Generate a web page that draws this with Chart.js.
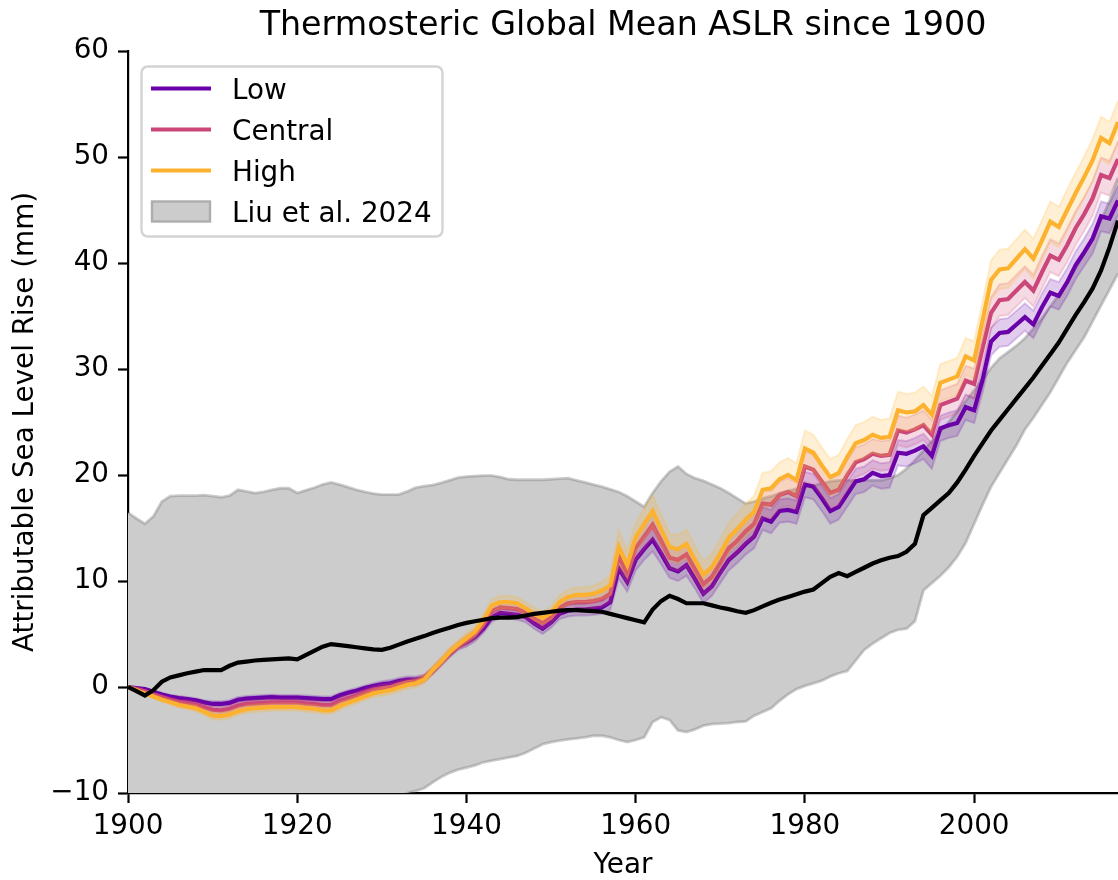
<!DOCTYPE html>
<html>
<head>
<meta charset="utf-8">
<title>Thermosteric Global Mean ASLR since 1900</title>
<script src="https://cdn.jsdelivr.net/npm/chart.js"></script>
<style>
  body { margin: 0; background: #fff; }
  canvas { display: block; }
</style>
</head>
<body>
<canvas id="aslr" width="1118" height="880"></canvas>
<script>
// annual values, 1900-2017, mm
const firstYear = 1900;

const low = [
  0.0, -0.1, -0.2, -0.45, -0.7, -0.9, -1.05, -1.15, -1.25, -1.45,      // 1900s
  -1.6, -1.6, -1.5, -1.2, -1.1, -1.05, -1.0, -0.95, -1.0, -1.0,        // 1910s
  -1.0, -1.05, -1.1, -1.15, -1.15, -0.8, -0.55, -0.35, -0.1, 0.1,      // 1920s
  0.25, 0.35, 0.55, 0.7, 0.7, 0.85, 1.5, 2.3, 3.1, 3.8,                // 1930s
  4.2, 4.7, 5.5, 6.6, 7.0, 6.9, 6.8, 6.6, 6.0, 5.5,                    // 1940s
  6.1, 6.9, 7.2, 7.3, 7.3, 7.4, 7.5, 8.0, 11.2, 9.9,                   // 1950s
  12.0, 13.0, 13.9, 12.6, 11.2, 10.9, 11.5, 10.2, 8.8, 9.5,            // 1960s
  10.8, 12.0, 12.7, 13.5, 14.2, 15.9, 15.6, 16.6, 16.7, 16.5,          // 1970s
  19.1, 18.9, 17.8, 16.6, 17.0, 18.2, 19.4, 19.6, 20.2, 19.9,          // 1980s
  20.0, 22.1, 22.0, 22.3, 22.7, 21.8, 24.4, 24.7, 24.9, 26.4,          // 1990s
  26.1, 29.0, 32.6, 33.4, 33.5, 34.2, 34.9, 34.2, 35.8, 37.2,          // 2000s
  36.9, 38.2, 39.8, 41.0, 42.3, 44.4, 44.2, 45.9                       // 2010s
];

const central = [
  0.0, -0.2, -0.4, -0.7, -0.95, -1.2, -1.4, -1.5, -1.65, -1.9,
  -2.15, -2.2, -2.05, -1.75, -1.6, -1.55, -1.5, -1.45, -1.45, -1.45,
  -1.45, -1.55, -1.6, -1.7, -1.7, -1.3, -1.05, -0.8, -0.5, -0.25,
  -0.1, 0.0, 0.25, 0.45, 0.5, 0.8, 1.55, 2.35, 3.2, 3.9,
  4.4, 4.95, 5.9, 7.15, 7.5, 7.45, 7.35, 7.0, 6.45, 6.0,
  6.55, 7.45, 7.9, 8.0, 8.0, 8.1, 8.3, 8.8, 12.3, 10.7,
  13.1, 14.2, 15.3, 13.8, 12.2, 12.0, 12.5, 11.1, 9.7, 10.4,
  11.7, 13.1, 13.8, 14.7, 15.4, 17.3, 17.2, 18.1, 18.4, 18.0,
  20.8, 20.5, 19.4, 18.3, 18.6, 20.0, 21.2, 21.5, 22.0, 21.8,
  21.9, 24.2, 24.0, 24.3, 24.7, 23.8, 26.6, 26.9, 27.2, 28.9,
  28.6, 32.0, 35.3, 36.5, 36.6, 37.4, 38.2, 37.4, 39.1, 40.7,
  40.3, 41.7, 43.3, 44.6, 46.1, 48.3, 48.0, 49.8
];

const high = [
  0.0, -0.3, -0.6, -0.9, -1.2, -1.45, -1.7, -1.85, -2.0, -2.35,
  -2.7, -2.75, -2.6, -2.3, -2.1, -2.0, -1.95, -1.9, -1.9, -1.9,
  -1.9, -2.0, -2.05, -2.2, -2.2, -1.8, -1.5, -1.2, -0.9, -0.6,
  -0.45, -0.3, -0.05, 0.2, 0.35, 0.7, 1.6, 2.4, 3.3, 4.0,
  4.6, 5.2, 6.3, 7.7, 8.0, 8.0, 7.9, 7.4, 6.9, 6.5,
  7.0, 8.0, 8.5, 8.7, 8.7, 8.8, 9.1, 9.6, 13.2, 11.5,
  14.1, 15.4, 16.6, 14.9, 13.2, 13.0, 13.5, 12.0, 10.6, 11.3,
  12.6, 14.1, 14.9, 15.8, 16.5, 18.6, 18.75, 19.6, 20.0, 19.5,
  22.5, 22.1, 20.9, 19.8, 20.2, 21.7, 23.0, 23.3, 23.8, 23.5,
  23.6, 26.1, 25.9, 26.0, 26.6, 25.7, 28.7, 29.0, 29.3, 31.2,
  30.8, 34.6, 38.4, 39.4, 39.5, 40.4, 41.3, 40.4, 42.1, 43.9,
  43.4, 45.0, 46.6, 48.1, 49.7, 51.8, 51.3, 53.3
];

// half-width of the shaded range around each scenario
const lowSpread = [
  0, 0.05, 0.1, 0.1, 0.15, 0.15, 0.2, 0.2, 0.2, 0.2,
  0.25, 0.25, 0.25, 0.25, 0.25, 0.25, 0.25, 0.25, 0.25, 0.25,
  0.25, 0.25, 0.25, 0.25, 0.25, 0.25, 0.25, 0.25, 0.25, 0.25,
  0.3, 0.3, 0.3, 0.3, 0.3, 0.3, 0.3, 0.3, 0.3, 0.3,
  0.4, 0.4, 0.4, 0.45, 0.45, 0.45, 0.45, 0.5, 0.5, 0.5,
  0.5, 0.5, 0.55, 0.55, 0.55, 0.6, 0.6, 0.7, 1.0, 0.9,
  1.0, 1.0, 1.1, 1.0, 0.9, 0.9, 1.0, 0.9, 0.9, 0.9,
  1.0, 1.0, 1.0, 1.0, 1.1, 1.1, 1.1, 1.1, 1.1, 1.1,
  1.2, 1.2, 1.2, 1.2, 1.2, 1.2, 1.2, 1.2, 1.2, 1.2,
  1.2, 1.2, 1.2, 1.2, 1.2, 1.2, 1.2, 1.2, 1.2, 1.2,
  1.2, 1.2, 1.3, 1.3, 1.3, 1.3, 1.3, 1.3, 1.3, 1.3,
  1.3, 1.3, 1.3, 1.3, 1.4, 1.4, 1.4, 1.4
];

const centralSpread = [
  0, 0.05, 0.1, 0.15, 0.15, 0.2, 0.2, 0.25, 0.25, 0.25,
  0.3, 0.3, 0.3, 0.3, 0.3, 0.3, 0.3, 0.3, 0.3, 0.3,
  0.3, 0.3, 0.3, 0.3, 0.3, 0.3, 0.3, 0.3, 0.3, 0.3,
  0.35, 0.35, 0.35, 0.35, 0.35, 0.35, 0.35, 0.35, 0.35, 0.35,
  0.45, 0.45, 0.5, 0.5, 0.5, 0.5, 0.5, 0.55, 0.55, 0.55,
  0.55, 0.6, 0.6, 0.6, 0.65, 0.65, 0.7, 0.8, 1.15, 1.05,
  1.15, 1.2, 1.25, 1.15, 1.05, 1.05, 1.1, 1.05, 1.0, 1.05,
  1.1, 1.15, 1.15, 1.2, 1.25, 1.3, 1.3, 1.3, 1.3, 1.3,
  1.4, 1.4, 1.4, 1.4, 1.4, 1.4, 1.4, 1.4, 1.4, 1.4,
  1.4, 1.4, 1.4, 1.4, 1.4, 1.4, 1.4, 1.4, 1.4, 1.4,
  1.45, 1.45, 1.5, 1.5, 1.5, 1.5, 1.5, 1.5, 1.55, 1.55,
  1.55, 1.6, 1.6, 1.6, 1.65, 1.65, 1.65, 1.7
];

const highSpread = [
  0, 0.05, 0.1, 0.15, 0.2, 0.2, 0.25, 0.25, 0.3, 0.3,
  0.35, 0.35, 0.35, 0.35, 0.35, 0.35, 0.35, 0.35, 0.35, 0.35,
  0.35, 0.35, 0.35, 0.35, 0.35, 0.35, 0.35, 0.35, 0.35, 0.35,
  0.4, 0.4, 0.4, 0.4, 0.4, 0.4, 0.4, 0.4, 0.4, 0.4,
  0.5, 0.5, 0.55, 0.6, 0.6, 0.6, 0.6, 0.6, 0.6, 0.6,
  0.6, 0.65, 0.7, 0.7, 0.7, 0.75, 0.8, 0.95, 1.6, 1.3,
  1.4, 1.45, 1.5, 1.4, 1.3, 1.3, 1.35, 1.3, 1.25, 1.3,
  1.35, 1.4, 1.45, 1.5, 1.55, 1.6, 1.6, 1.6, 1.6, 1.6,
  1.7, 1.7, 1.7, 1.7, 1.7, 1.7, 1.7, 1.7, 1.7, 1.7,
  1.75, 1.75, 1.75, 1.75, 1.75, 1.75, 1.75, 1.75, 1.75, 1.75,
  1.8, 1.8, 1.85, 1.85, 1.85, 1.85, 1.85, 1.9, 1.9, 1.9,
  1.9, 1.95, 1.95, 1.95, 2.0, 2.0, 2.0, 2.0
];

// Liu et al. 2024: ensemble mean and range
const liuMean = [
  0.0, -0.4, -0.8, -0.3, 0.5, 0.9, 1.1, 1.3, 1.45, 1.6,
  1.6, 1.6, 2.0, 2.3, 2.4, 2.5, 2.55, 2.6, 2.65, 2.7,
  2.6, 3.0, 3.4, 3.8, 4.05, 3.95, 3.85, 3.75, 3.65, 3.55,
  3.5, 3.7, 4.0, 4.3, 4.55, 4.8, 5.1, 5.35, 5.6, 5.85,
  6.05, 6.2, 6.35, 6.5, 6.55, 6.55, 6.6, 6.75, 6.9, 7.0,
  7.1, 7.2, 7.25, 7.25, 7.2, 7.15, 7.1, 6.9, 6.7, 6.5,
  6.3, 6.1, 7.3, 8.1, 8.6, 8.3, 7.9, 7.9, 7.9, 7.7,
  7.5, 7.35, 7.15, 7.0, 7.25, 7.6, 7.95, 8.25, 8.5, 8.75,
  9.0, 9.2, 9.8, 10.4, 10.75, 10.45, 10.85, 11.25, 11.65, 11.95,
  12.2, 12.35, 12.75, 13.5, 16.2, 16.9, 17.6, 18.3, 19.3, 20.5,
  21.8, 23.0, 24.2, 25.2, 26.2, 27.2, 28.2, 29.2, 30.3, 31.4,
  32.5, 33.8, 35.1, 36.3, 37.6, 39.3, 41.5, 44.0
];

const liuUpper = [
  16.45, 15.9, 15.4, 16.1, 17.5, 18.0, 18.05, 18.05, 18.05, 18.1,
  18.0, 17.9, 18.05, 18.6, 18.45, 18.3, 18.4, 18.6, 18.75, 18.75,
  18.3, 18.55, 18.8, 19.1, 19.3, 19.1, 18.85, 18.6, 18.4, 18.25,
  18.15, 18.15, 18.15, 18.45, 18.8, 18.95, 19.05, 19.25, 19.5, 19.75,
  19.85, 19.9, 19.95, 19.95, 19.8, 19.6, 19.55, 19.55, 19.55, 19.55,
  19.6, 19.65, 19.7, 19.5, 19.3, 19.1, 18.9, 18.65, 18.4, 18.0,
  17.5, 17.0, 18.3, 19.4, 20.3, 20.8, 20.1, 19.7, 19.45, 19.1,
  18.75, 18.3, 17.8, 17.3, 17.5, 17.8, 18.0, 18.3, 18.5, 18.7,
  18.9, 19.0, 19.2, 19.4, 19.5, 19.5, 19.5, 19.5, 19.5, 19.5,
  19.7, 20.0, 20.6, 21.4, 22.3, 23.2, 24.1, 25.0, 26.0, 27.0,
  28.0, 29.0, 30.1, 31.0, 31.6, 32.2, 32.9, 33.8, 34.8, 35.9,
  37.0, 38.2, 39.5, 40.9, 42.4, 44.0, 45.9, 48.0
];

const liuLower = [
  -16.5, -16.5, -17.0, -16.8, -16.5, -16.2, -16.0, -15.8, -15.6, -15.4,
  -15.3, -15.2, -14.9, -14.6, -14.4, -14.2, -14.0, -13.8, -13.6, -13.4,
  -13.3, -13.0, -12.6, -12.2, -11.9, -11.8, -11.7, -11.5, -11.3, -11.1,
  -10.9, -10.6, -10.3, -10.0, -9.8, -9.55, -9.0, -8.5, -8.1, -7.8,
  -7.6, -7.4, -7.1, -6.95, -6.8, -6.65, -6.5, -6.2, -5.8, -5.4,
  -5.2, -5.05, -4.95, -4.85, -4.75, -4.6, -4.6, -4.75, -5.0, -5.2,
  -5.0, -4.75, -3.3, -2.85, -3.1, -4.1, -4.25, -4.0, -3.65, -3.5,
  -3.45, -3.4, -3.3, -3.25, -2.7, -2.35, -2.0, -1.3, -0.7, -0.2,
  0.1, 0.35, 0.6, 1.0, 1.3, 1.5, 2.5, 3.5, 4.1, 4.6,
  5.1, 5.4, 5.5, 6.2, 9.1, 9.8, 10.5, 11.3, 12.3, 13.6,
  15.4, 17.2, 18.9, 20.2, 21.5, 22.8, 24.3, 25.4, 26.6, 27.8,
  29.2, 30.6, 31.8, 33.0, 34.5, 36.0, 37.5, 39.0
];

const yTicks = [-10, 0, 10, 20, 30, 40, 50, 60];

const years = low.map((_, i) => firstYear + i);

const colors = {
  low: [106, 0, 168],
  central: [203, 70, 121],
  high: [253, 178, 47]
};
const rgba = (c, a) => `rgba(${c[0]},${c[1]},${c[2]},${a})`;

const xy = vals => vals.map((v, i) => ({ x: years[i], y: v }));
const shifted = (vals, spread, sign) =>
  vals.map((v, i) => ({ x: years[i], y: Math.round((v + sign * spread[i]) * 100) / 100 }));

const FONT = 'DejaVu Sans';
const labelFont = { family: FONT, size: 27.8 };

function scenarioLayers(name, vals, spread) {
  const c = colors[name];
  return [
    { data: shifted(vals, spread, 1), borderColor: rgba(c, 0.2), borderWidth: 2,
      backgroundColor: rgba(c, 0.2), fill: '+1' },
    { data: shifted(vals, spread, -1), borderColor: rgba(c, 0.2), borderWidth: 2, fill: false },
    { data: xy(vals), borderColor: rgba(c, 1), borderWidth: 4.2, fill: false }
  ];
}

// bottom layer first; the Liu mean line sits over the scenarios
const layers = [
  { data: xy(liuUpper), borderColor: 'rgba(128,128,128,0.4)', borderWidth: 2.8,
    backgroundColor: '#cccccc', fill: '+1' },
  { data: xy(liuLower), borderColor: 'rgba(128,128,128,0.4)', borderWidth: 2.8, fill: false },
  ...scenarioLayers('low', low, lowSpread),
  ...scenarioLayers('central', central, centralSpread),
  ...scenarioLayers('high', high, highSpread),
  { data: xy(liuMean), borderColor: '#000000', borderWidth: 4.2, fill: false }
];
layers.forEach((d, i) => { d.order = layers.length - i; d.pointRadius = 0; d.tension = 0; });

const legendItems = [
  { label: 'Low', color: rgba(colors.low, 1) },
  { label: 'Central', color: rgba(colors.central, 1) },
  { label: 'High', color: rgba(colors.high, 1) },
  { label: 'Liu et al. 2024', patch: true }
];

function roundRect(ctx, x, y, w, h, r) {
  ctx.beginPath();
  ctx.moveTo(x + r, y);
  ctx.lineTo(x + w - r, y);
  ctx.quadraticCurveTo(x + w, y, x + w, y + r);
  ctx.lineTo(x + w, y + h - r);
  ctx.quadraticCurveTo(x + w, y + h, x + w - r, y + h);
  ctx.lineTo(x + r, y + h);
  ctx.quadraticCurveTo(x, y + h, x, y + h - r);
  ctx.lineTo(x, y + r);
  ctx.quadraticCurveTo(x, y, x + r, y);
  ctx.closePath();
}

// title over the axes and the legend box inside the top-left corner
const decorations = {
  id: 'decorations',
  afterDraw(chart) {
    const ctx = chart.ctx;
    const area = chart.chartArea;
    ctx.save();
    ctx.fillStyle = '#000';
    ctx.font = `33.3px "${FONT}"`;
    ctx.textAlign = 'center';
    ctx.textBaseline = 'alphabetic';
    ctx.fillText('Thermosteric Global Mean ASLR since 1900', (area.left + area.right) / 2, 35);

    const bx = area.left + 13.5, by = area.top + 15.5;
    roundRect(ctx, bx, by, 301, 170, 7);
    ctx.fillStyle = 'rgba(255,255,255,0.8)';
    ctx.fill();
    ctx.strokeStyle = '#d4d4d4';
    ctx.lineWidth = 2.4;
    ctx.stroke();

    ctx.font = `27.8px "${FONT}"`;
    ctx.textAlign = 'left';
    legendItems.forEach((item, i) => {
      const rowY = by + 22 + i * 41;
      if (item.patch) {
        ctx.fillStyle = '#cccccc';
        ctx.fillRect(bx + 10.5, rowY - 10, 58, 20);
        ctx.strokeStyle = '#adadad';
        ctx.lineWidth = 2.4;
        ctx.strokeRect(bx + 10.5, rowY - 10, 58, 20);
      } else {
        ctx.strokeStyle = item.color;
        ctx.lineWidth = 4.2;
        ctx.beginPath();
        ctx.moveTo(bx + 9.5, rowY);
        ctx.lineTo(bx + 69.5, rowY);
        ctx.stroke();
      }
      ctx.fillStyle = '#000';
      ctx.fillText(item.label, bx + 90.5, rowY + 10);
    });
    ctx.restore();
  }
};

const minusSign = v => (v < 0 ? '\u2212' + Math.abs(v) : String(v));

new Chart(document.getElementById('aslr'), {
  type: 'line',
  data: { datasets: layers },
  options: {
    responsive: false,
    animation: false,
    devicePixelRatio: 1,
    layout: { padding: { top: 51, right: 0, bottom: 0, left: 0 } },
    plugins: {
      legend: { display: false },
      tooltip: { enabled: false },
      title: { display: false }
    },
    scales: {
      x: {
        type: 'linear',
        min: firstYear,
        max: 2017,
        afterFit: s => { s.height = 87; },
        ticks: {
          stepSize: 20,
          includeBounds: false,
          color: '#000',
          font: labelFont,
          padding: 7,
          maxRotation: 0,
          callback: v => String(v)
        },
        grid: { drawOnChartArea: false, tickLength: 10, tickWidth: 2.2, tickColor: '#000' },
        border: { color: '#000', width: 2.2 },
        title: { display: true, text: 'Year', color: '#000',
                 font: { family: FONT, size: 27.8, lineHeight: 1.05 }, padding: { top: 0, bottom: 0 } }
      },
      y: {
        min: yTicks[0],
        max: yTicks[yTicks.length - 1],
        afterFit: s => { s.width = 128; },
        afterBuildTicks: s => { s.ticks = yTicks.map(v => ({ value: v })); },
        ticks: {
          color: '#000',
          font: labelFont,
          padding: 9,
          callback: minusSign
        },
        grid: { drawOnChartArea: false, tickLength: 10, tickWidth: 2.2, tickColor: '#000' },
        border: { color: '#000', width: 2.2 },
        title: { display: true, text: 'Attributable Sea Level Rise (mm)', color: '#000', font: labelFont,
                 padding: { top: 9, bottom: 0 } }
      }
    }
  },
  plugins: [decorations]
});
</script>
</body>
</html>
